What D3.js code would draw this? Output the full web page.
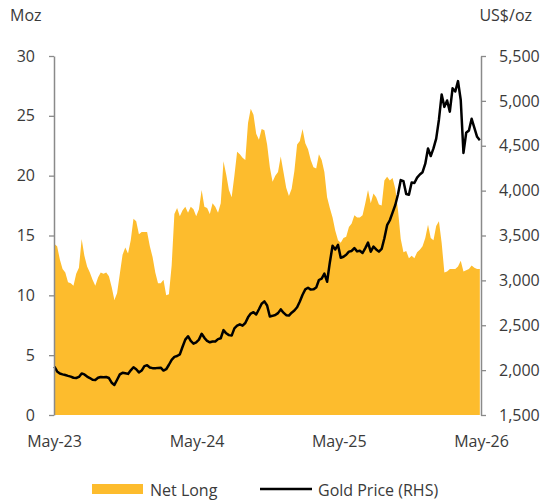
<!DOCTYPE html>
<html>
<head>
<meta charset="utf-8">
<script src="https://cdn.jsdelivr.net/npm/d3@7"></script>
<style>
  body { margin: 0; background: #fff; }
  svg text { font-family: "Open Sans", sans-serif; font-size: 16px; fill: #3a3a3a; }
</style>
</head>
<body>
<div class="container"></div>
<script>
// weekly data, starting first week of May 2023
const startDate = new Date(2023, 4, 2);

// Net long positioning (Moz)
const netLong = [
  14.3, 14.1, 13.0, 12.2, 11.9, 11.1, 11.0, 10.8, 11.8, 12.3,
  14.7, 13.3, 12.4, 11.9, 11.3, 10.8, 11.5, 11.9, 11.8, 11.9,
  11.6, 10.7, 9.6, 10.2, 11.8, 13.4, 14.0, 13.5, 14.6, 16.4,
  16.2, 15.1, 15.3, 15.3, 15.3, 14.1, 13.2, 11.9, 11.0, 11.0,
  11.3, 10.0, 10.1, 12.5, 16.8, 17.3, 16.6, 17.1, 17.4, 16.9,
  17.4, 17.2, 16.6, 17.2, 18.8, 17.4, 17.3, 16.8, 17.7, 17.4,
  16.9, 17.7, 21.2, 20.1, 18.8, 18.2, 20.0, 22.0, 21.8, 21.5,
  21.3, 24.4, 25.6, 25.1, 23.5, 23.0, 23.9, 23.8, 22.6, 20.7,
  19.5, 20.0, 20.3, 21.6, 20.3, 19.0, 18.3, 18.9, 20.4, 22.6,
  22.9, 23.9, 22.7, 22.2, 21.3, 20.7, 20.6, 21.8, 21.3, 20.3,
  18.2, 17.3, 16.5, 15.4, 14.6, 14.4, 14.8, 14.9, 15.7, 16.0,
  16.7, 16.5, 16.5, 16.7, 17.7, 18.8, 17.7, 18.5, 18.2, 17.6,
  17.5, 19.6, 19.9, 19.6, 19.8, 18.9, 17.1, 14.7, 13.6, 13.7,
  13.1, 13.3, 13.1, 13.6, 13.8, 14.1, 14.8, 15.9, 14.8, 14.6,
  15.8, 16.2, 14.4, 11.9, 12.0, 12.2, 12.2, 12.2, 12.4, 12.9,
  12.0, 12.1, 12.2, 12.5, 12.3, 12.2, 12.2
];

// Gold price (US$/oz, RHS)
const goldPrice = [
  2040, 1985, 1962, 1953, 1945, 1936, 1928, 1915, 1912, 1924,
  1962, 1952, 1928, 1912, 1892, 1890, 1915, 1924, 1920, 1923,
  1912, 1860, 1835, 1893, 1952, 1970, 1965, 1958, 1998, 2032,
  2010, 1975, 1995, 2045, 2054, 2030, 2022, 2022, 2025, 2027,
  1995, 2010, 2060, 2115, 2147, 2157, 2175, 2260, 2340, 2378,
  2325, 2295, 2310, 2340, 2405, 2360, 2325, 2310, 2319, 2319,
  2345, 2355, 2446, 2410, 2390, 2385, 2465, 2495, 2510, 2495,
  2525, 2588, 2630, 2645, 2620, 2678, 2740, 2766, 2720, 2598,
  2605, 2614, 2635, 2677, 2640, 2612, 2608, 2640, 2664, 2700,
  2765, 2840, 2900, 2918, 2897, 2900, 2920, 3004, 3020, 3075,
  2985, 3200, 3385, 3345, 3395, 3252, 3263, 3285, 3320, 3328,
  3360, 3323, 3330, 3305, 3360, 3420, 3320, 3377, 3345, 3320,
  3350, 3470, 3615, 3670, 3755, 3840, 3960, 4118, 4105, 3962,
  3955, 4090, 4085, 4145, 4180, 4205, 4300, 4470, 4385, 4470,
  4580, 4790, 5070, 4933, 5005, 4880, 5140, 5105, 5220, 5010,
  4420, 4645, 4670, 4800, 4700, 4600, 4562
];

const xTicks = [new Date(2023, 4, 1), new Date(2024, 4, 1), new Date(2025, 4, 1), new Date(2026, 4, 1)];
const leftTicks = [0, 5, 10, 15, 20, 25, 30];
const rightTicks = [1500, 2000, 2500, 3000, 3500, 4000, 4500, 5000, 5500];

const data = netLong.map((v, i) => ({
  date: d3.timeDay.offset(startDate, i * 7),
  net: v,
  gold: goldPrice[i]
}));

const width = 545, height = 503;
const plot = { left: 54, right: 481, top: 56, bottom: 415 };
const gold = "#FDBC2D", axisGrey = "#8a8a8a";

const svg = d3.select(".container")
  .append("svg")
  .attr("width", width)
  .attr("height", height);

const x = d3.scaleTime()
  .domain([xTicks[0], xTicks[3]])
  .range([plot.left, plot.right]);

const yLeft = d3.scaleLinear().domain([0, 30]).range([plot.bottom, plot.top]);
const yRight = d3.scaleLinear().domain([1500, 5500]).range([plot.bottom, plot.top]);

// net long area
svg.append("path")
  .datum(data)
  .attr("fill", gold)
  .attr("d", d3.area()
    .x(d => x(d.date))
    .y0(yLeft(0))
    .y1(d => yLeft(d.net)));

// gold price line
svg.append("path")
  .datum(data)
  .attr("fill", "none")
  .attr("stroke", "#000")
  .attr("stroke-width", 2.5)
  .attr("stroke-linejoin", "round")
  .attr("d", d3.line()
    .x(d => x(d.date))
    .y(d => yRight(d.gold)));

// axes
const leftAxis = svg.append("g")
  .attr("transform", `translate(${plot.left},0)`)
  .call(d3.axisLeft(yLeft).tickValues(leftTicks).tickSize(5).tickSizeOuter(0).tickPadding(14));

const rightAxis = svg.append("g")
  .attr("transform", `translate(${plot.right},0)`)
  .call(d3.axisRight(yRight).tickValues(rightTicks).tickSize(5).tickSizeOuter(0).tickPadding(13)
    .tickFormat(d3.format(",")));

const bottomAxis = svg.append("g")
  .attr("transform", `translate(0,${plot.bottom})`)
  .call(d3.axisBottom(x).tickValues(xTicks).tickSize(0).tickPadding(21)
    .tickFormat(d3.timeFormat("%b-%y")));
bottomAxis.select(".domain").remove();

[leftAxis, rightAxis].forEach(g => {
  g.select(".domain").attr("stroke", axisGrey).attr("stroke-width", 1.5);
  g.selectAll(".tick line").attr("stroke", axisGrey).attr("stroke-width", 1.3);
});
svg.selectAll(".tick text")
  .attr("font-family", "Open Sans, sans-serif")
  .attr("font-size", 16)
  .attr("fill", "#3a3a3a");

// axis unit titles
svg.append("text").attr("x", 10).attr("y", 21).text("Moz");
svg.append("text").attr("x", 532).attr("y", 21).attr("text-anchor", "end").text("US$/oz");

// legend
const legend = svg.append("g");
legend.append("rect")
  .attr("x", 92).attr("y", 484)
  .attr("width", 51).attr("height", 10)
  .attr("fill", gold);
legend.append("text").attr("x", 150).attr("y", 495.5).text("Net Long");
legend.append("line")
  .attr("x1", 260).attr("x2", 312)
  .attr("y1", 489).attr("y2", 489)
  .attr("stroke", "#000").attr("stroke-width", 2.5);
legend.append("text").attr("x", 318).attr("y", 495.5).text("Gold Price (RHS)");
</script>
</body>
</html>
